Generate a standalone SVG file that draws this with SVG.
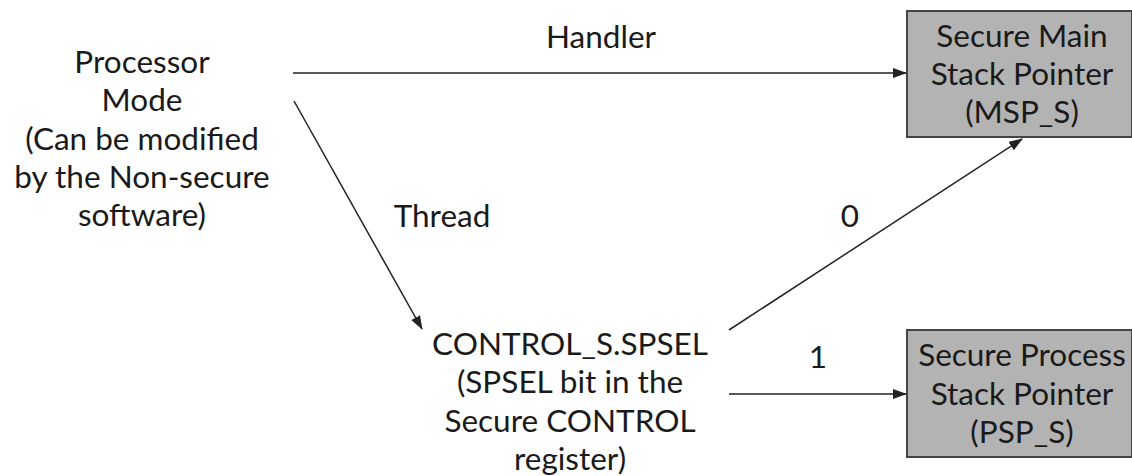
<svg xmlns="http://www.w3.org/2000/svg" width="1132" height="476" viewBox="0 0 1132 476">
<style>
text{font-family:Lato,"Open Sans","Liberation Sans",sans-serif;font-size:31.5px;fill:#1a1a1a;text-anchor:middle}
.box{fill:#b3b3b3;stroke:#444;stroke-width:2}
.c{stroke:#222;stroke-width:1.5;fill:none;marker-end:url(#ah)}
</style>
<defs>
<marker id="ah" markerWidth="14" markerHeight="10" refX="13" refY="5" orient="auto" markerUnits="userSpaceOnUse">
<path d="M0,0 L14,5 L0,10 Z" fill="#222"/>
</marker>
</defs>
<rect width="1132" height="476" fill="#fff"/>
<g id="connectors">
<line class="c" x1="293" y1="73" x2="906" y2="73"/>
<line class="c" x1="294" y1="101" x2="422" y2="329"/>
<line class="c" x1="729" y1="330" x2="1022" y2="139"/>
<line class="c" x1="729" y1="394" x2="906" y2="394"/>
<text x="601" y="48">Handler</text>
<text x="442" y="227">Thread</text>
<text x="850" y="227">0</text>
<text x="818" y="368">1</text>
</g>
<g id="processor-mode">
<text x="142" y="73">Processor</text>
<text x="142" y="111">Mode</text>
<text x="142" y="150">(Can be modified</text>
<text x="142" y="188">by the Non-secure</text>
<text x="142" y="226">software)</text>
</g>
<g id="control-spsel">
<text x="570" y="355">CONTROL_S.SPSEL</text>
<text x="570" y="393">(SPSEL bit in the</text>
<text x="570" y="432">Secure CONTROL</text>
<text x="570" y="470">register)</text>
</g>
<g id="msp-s">
<rect class="box" x="907" y="11" width="225" height="126"/>
<text x="1022" y="47">Secure Main</text>
<text x="1022" y="85">Stack Pointer</text>
<text x="1022" y="123">(MSP_S)</text>
</g>
<g id="psp-s">
<rect class="box" x="907" y="330" width="225" height="127"/>
<text x="1022" y="366">Secure Process</text>
<text x="1022" y="405">Stack Pointer</text>
<text x="1022" y="443">(PSP_S)</text>
</g>
</svg>
